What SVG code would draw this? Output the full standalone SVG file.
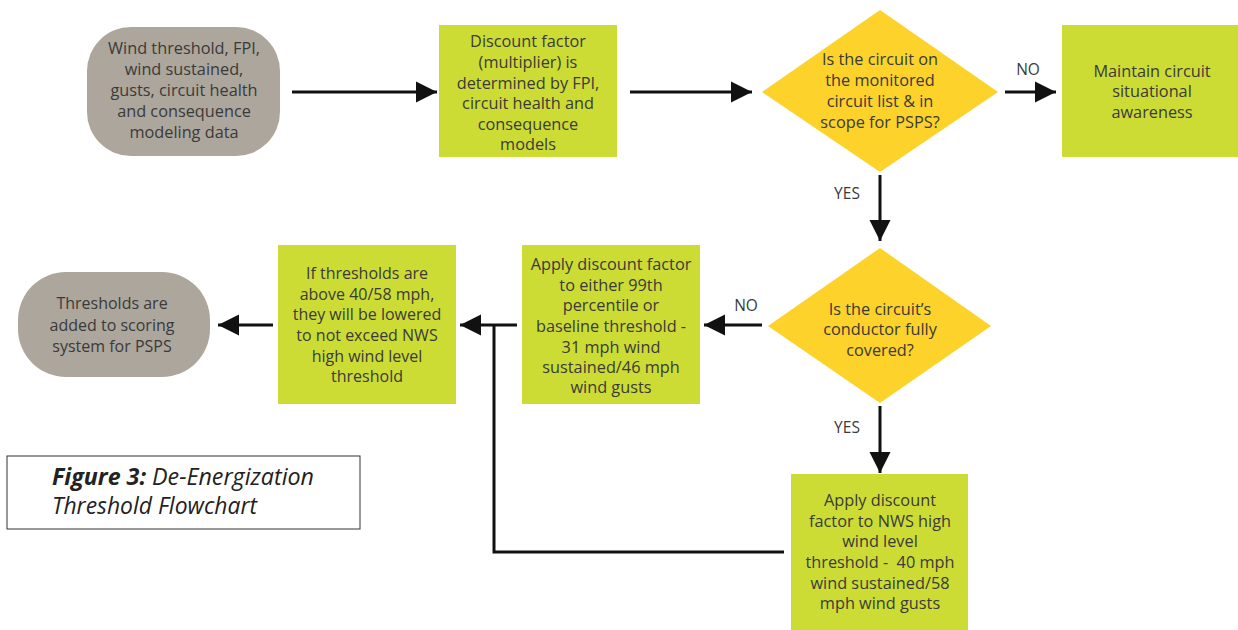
<svg xmlns="http://www.w3.org/2000/svg" width="1238" height="630" viewBox="0 0 1238 630">
<style>
.t{font-family:"Open Sans","Liberation Sans",sans-serif;font-size:16.3px;fill:#3a3a3a;text-anchor:middle}
.c{font-family:"Open Sans","Liberation Sans",sans-serif;font-size:16px;fill:#3a3a3a;text-anchor:middle}
.lbl{font-family:"Open Sans","Liberation Sans",sans-serif;font-size:15.5px;fill:#3a3a3a;text-anchor:middle}
.g{fill:#ccdc34}
.y{fill:#fdd22a}
.gr{fill:#ada69c}
.ln{stroke:#111;stroke-width:3;fill:none}
</style>
<defs>
<marker id="ah" viewBox="0 0 10 10" refX="10" refY="5" markerWidth="7" markerHeight="7.5" markerUnits="strokeWidth" orient="auto">
<path d="M0,0 L10,5 L0,10 Z" fill="#111"/>
</marker>
</defs>
<rect width="1238" height="630" fill="#fff"/>
<g id="connectors">
<line class="ln" x1="292" y1="92" x2="437" y2="92" marker-end="url(#ah)"/>
<line class="ln" x1="630" y1="92" x2="752" y2="92" marker-end="url(#ah)"/>
<line class="ln" x1="1005" y1="92" x2="1056" y2="92" marker-end="url(#ah)"/>
<line class="ln" x1="880" y1="175" x2="880" y2="241" marker-end="url(#ah)"/>
<line class="ln" x1="762" y1="325" x2="704" y2="325" marker-end="url(#ah)"/>
<line class="ln" x1="880" y1="406" x2="880" y2="473" marker-end="url(#ah)"/>
<line class="ln" x1="517" y1="325" x2="460" y2="325" marker-end="url(#ah)"/>
<polyline class="ln" points="784,552 494,552 494,325"/>
<line class="ln" x1="273" y1="325" x2="218" y2="325" marker-end="url(#ah)"/>
<text class="lbl" x="1028" y="75">NO</text>
<text class="lbl" x="847" y="199">YES</text>
<text class="lbl" x="746" y="311">NO</text>
<text class="lbl" x="847" y="433">YES</text>
</g>
<g id="n1">
<rect class="gr" x="87" y="27" width="193" height="129" rx="44"/>
<text class="t"><tspan x="184" y="54">Wind threshold, FPI,</tspan><tspan x="184" y="75">wind sustained,</tspan><tspan x="184" y="96">gusts, circuit health</tspan><tspan x="184" y="117">and consequence</tspan><tspan x="184" y="138">modeling data</tspan></text>
</g>
<g id="n2">
<rect class="g" x="439" y="25" width="178" height="132"/>
<text class="t"><tspan x="528" y="47">Discount factor</tspan><tspan x="528" y="68">(multiplier) is</tspan><tspan x="528" y="89">determined by FPI,</tspan><tspan x="528" y="109">circuit health and</tspan><tspan x="528" y="130">consequence</tspan><tspan x="528" y="150">models</tspan></text>
</g>
<g id="d1">
<polygon class="y" points="880,10 998,92 880,172 762,92"/>
<text class="t"><tspan x="880" y="65">Is the circuit on</tspan><tspan x="880" y="86">the monitored</tspan><tspan x="880" y="107">circuit list &amp; in</tspan><tspan x="880" y="128">scope for PSPS?</tspan></text>
</g>
<g id="n3">
<rect class="g" x="1062" y="25" width="176" height="132"/>
<text class="t"><tspan x="1152" y="77">Maintain circuit</tspan><tspan x="1152" y="97">situational</tspan><tspan x="1152" y="118">awareness</tspan></text>
</g>
<g id="d2">
<polygon class="y" points="880,248 991,326 880,403 768,326"/>
<text class="t"><tspan x="880" y="315">Is the circuit’s</tspan><tspan x="880" y="335">conductor fully</tspan><tspan x="880" y="356">covered?</tspan></text>
</g>
<g id="n4">
<rect class="g" x="522" y="245" width="178" height="159"/>
<text class="t"><tspan x="611" y="270">Apply discount factor</tspan><tspan x="611" y="291">to either 99th</tspan><tspan x="611" y="311">percentile or</tspan><tspan x="611" y="332">baseline threshold -</tspan><tspan x="611" y="353">31 mph wind</tspan><tspan x="611" y="373">sustained/46 mph</tspan><tspan x="611" y="393">wind gusts</tspan></text>
</g>
<g id="n5">
<rect class="g" x="278" y="245" width="178" height="159"/>
<text class="c"><tspan x="367" y="279">If thresholds are</tspan><tspan x="367" y="300">above 40/58 mph,</tspan><tspan x="367" y="320">they will be lowered</tspan><tspan x="367" y="341">to not exceed NWS</tspan><tspan x="367" y="362">high wind level</tspan><tspan x="367" y="382">threshold</tspan></text>
</g>
<g id="n6">
<rect class="gr" x="18" y="272" width="192" height="105" rx="48"/>
<text class="c"><tspan x="112" y="309">Thresholds are</tspan><tspan x="112" y="331">added to scoring</tspan><tspan x="112" y="352">system for PSPS</tspan></text>
</g>
<g id="n7">
<rect class="g" x="791" y="474" width="177" height="156"/>
<text class="t"><tspan x="880" y="506">Apply discount</tspan><tspan x="880" y="527">factor to NWS high</tspan><tspan x="880" y="547">wind level</tspan><tspan x="880" y="568">threshold - &#160;40 mph</tspan><tspan x="880" y="589">wind sustained/58</tspan><tspan x="880" y="609">mph wind gusts</tspan></text>
</g>
<g id="caption">
<rect x="7" y="456" width="353" height="73" fill="#fff" stroke="#333" stroke-width="1"/>
<text x="52" y="485" font-family="'Open Sans','Liberation Sans',sans-serif" font-size="23" font-style="italic" fill="#222" textLength="262" lengthAdjust="spacingAndGlyphs"><tspan font-weight="bold">Figure 3:</tspan> De-Energization</text>
<text x="52" y="514" font-family="'Open Sans','Liberation Sans',sans-serif" font-size="23" font-style="italic" fill="#222" textLength="205" lengthAdjust="spacingAndGlyphs">Threshold Flowchart</text>
</g>
</svg>
